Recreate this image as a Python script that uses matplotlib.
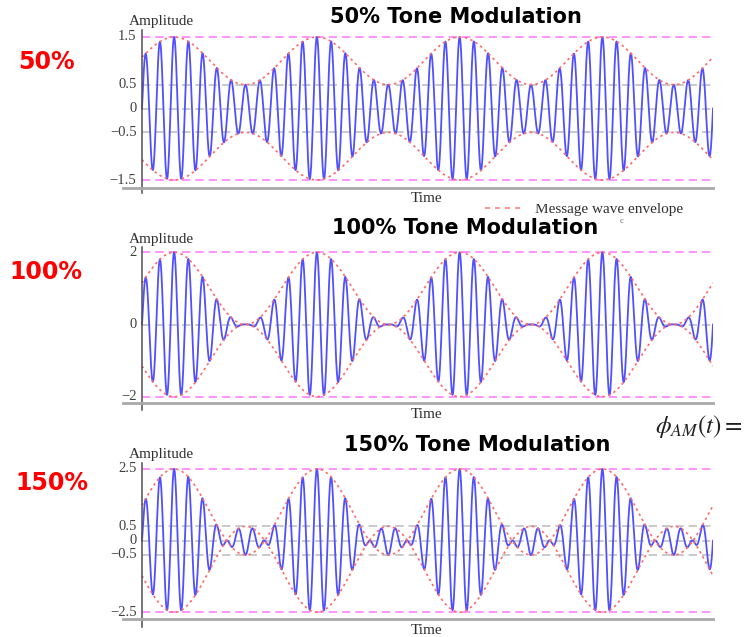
import numpy as np
import matplotlib
matplotlib.use("Agg")
import matplotlib.pyplot as plt
from matplotlib.lines import Line2D
from matplotlib.patches import Rectangle

# figure size in pixels
W, H = 745, 637

# chart content
mod_labels = ['50%', '100%', '150%']
titles = ['50% Tone Modulation', '100% Tone Modulation', '150% Tone Modulation']
mod_index = [0.5, 1.0, 1.5]
message_cycles = 4          # envelope periods across the time axis
carrier_per_message = 10    # carrier cycles per envelope period
env_phase = 0.15            # envelope phase at t=0 (rad)
tick_vals = [[-1.5, -0.5, 0, 0.5, 1.5], [-2, 0, 2], [-2.5, -0.5, 0, 0.5, 2.5]]
tick_text = [['\u22121.5', '\u22120.5', '0', '0.5', '1.5'],
             ['\u22122', '0', '2'],
             ['\u22122.5', '\u22120.5', '0', '0.5', '2.5']]

# panel geometry in pixels: (axes top, axes bottom, zero line, px per unit, bottom axis line)
panels = [(30, 193, 108.5, 47.67, 188),
          (247, 410, 324.5, 36.1, 403.3),
          (462.7, 626.7, 540.65, 28.66, 619.3)]
x_left, x_zero, x_right = 123, 142, 713

serif = 'Liberation Serif'

def fx(x):
    return x / W

def fy(y):
    return 1 - y / H

fig = plt.figure(figsize=(W / 100, H / 100), dpi=100)

t = np.linspace(0, message_cycles, 6000)

for i, m in enumerate(mod_index):
    top, bot, zero, scale, axis_y = panels[i]
    ax = fig.add_axes([fx(x_left), fy(bot), fx(x_right - x_left), (bot - top) / H])
    ax.set_xlim(-(x_zero - x_left) / (x_right - x_zero) * message_cycles, message_cycles)
    ax.set_ylim((zero - bot) / scale, (zero - top) / scale)
    ax.axis('off')

    env = 1 + m * np.sin(2 * np.pi * t + env_phase)
    sig = env * np.sin(2 * np.pi * carrier_per_message * t)
    peak = 1 + m

    # grid lines
    for v in tick_vals[i]:
        if abs(v) == peak:
            ax.plot([0, message_cycles], [v, v], color='#ff80ff', lw=1.2,
                    dashes=(5, 3), zorder=1)
        else:
            ax.plot([0, message_cycles], [v, v], color='#c0c0c0', lw=1.2,
                    dashes=(5, 3), zorder=1)

    ax.plot(t, sig, color='#5050ff', lw=1.3, zorder=3)
    ax.plot(t, env, color='#ff6a6a', lw=1.2, dashes=(1.5, 2), zorder=4)
    ax.plot(t, -env, color='#ff6a6a', lw=1.2, dashes=(1.5, 2), zorder=4)

    # axes lines
    ylo, yhi = ax.get_ylim()
    ax.plot([0, 0], [ylo, yhi], color='#505050', lw=1.1, zorder=5, clip_on=False)
    ay = (zero - axis_y) / scale
    ax.plot(ax.get_xlim(), [ay, ay], color='#a8a8a8', lw=2, zorder=5, clip_on=False)

    for v, s in zip(tick_vals[i], tick_text[i]):
        ax.annotate(s, xy=(0, v), xytext=(-4, 0), textcoords='offset points',
                    ha='right', va='center', fontsize=10.5, family=serif,
                    color='#404040')

    fig.text(fx(161), fy(top - 8), 'Amplitude', ha='center', va='center',
             fontsize=11, family=serif, color='#303030')
    fig.text(fx(427), fy(axis_y + 11), 'Time', ha='center', va='center',
             fontsize=11, family=serif, color='#303030')

# titles and side labels
title_pos = [(456, 17), (465, 228), (477, 445)]
for s, (x, y) in zip(titles, title_pos):
    fig.text(fx(x), fy(y), s, ha='center', va='center', fontsize=15,
             fontweight='bold', color='black')

label_pos = [(46, 62), (46, 272), (52, 483)]
for s, (x, y) in zip(mod_labels, label_pos):
    fig.text(fx(x), fy(y), s, ha='center', va='center', fontsize=17,
             fontweight='bold', color='#ff0000')

# leftover legend fragment from the source slide
fig.add_artist(Line2D([fx(485), fx(522)], [fy(208), fy(208)], color='#ff8080',
                      lw=1.2, dashes=(3, 3)))
fig.text(fx(535), fy(209), 'Message wave envelope', ha='left', va='center',
         fontsize=11, family=serif, color='#303030')
fig.add_artist(Rectangle((fx(530), fy(204.5)), fx(62), 8 / H, transform=fig.transFigure,
                         facecolor='white', edgecolor='none', zorder=10))
fig.text(fx(622), fy(221), 'c', ha='center', va='center', fontsize=6,
         family=serif, color='#606060')

plt.rcParams['mathtext.fontset'] = 'stix'
fig.text(fx(655), fy(426), r'$\phi_{AM}(t) =$', ha='left', va='center',
         fontsize=18, color='#202020')

fig.savefig('out.png', dpi=100)
